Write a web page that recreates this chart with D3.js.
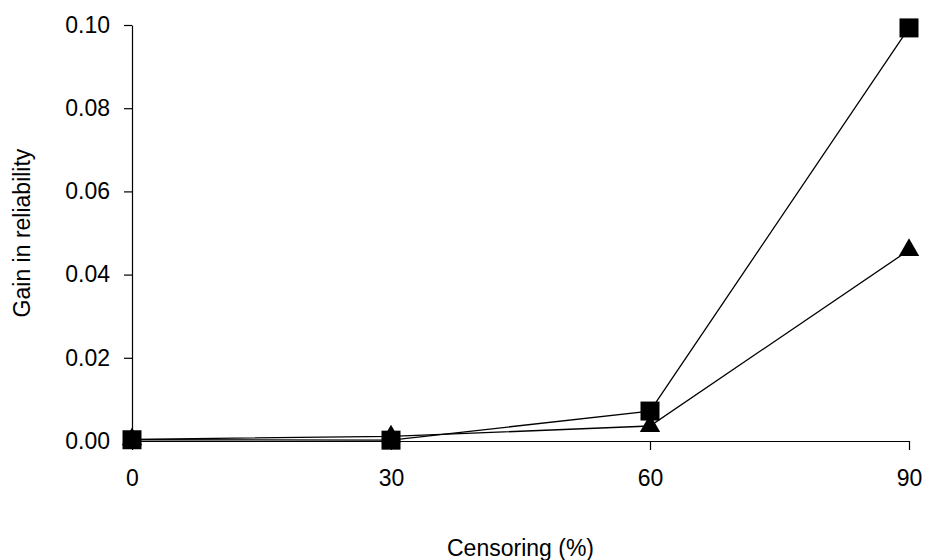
<!DOCTYPE html>
<html>
<head>
<meta charset="utf-8">
<script src="https://cdn.jsdelivr.net/npm/d3@7/dist/d3.min.js"></script>
<style>
  html, body { margin: 0; padding: 0; background: #fff; }
  svg { display: block; font-family: "Liberation Sans", Arial, sans-serif; }
</style>
</head>
<body>
<svg id="chart" width="928" height="560"></svg>
<script>
// Censoring levels (%) on the x axis
const censoring = [0, 30, 60, 90];
// Gain in reliability for the two series
const squareSeries = [0.0003, 0.0002, 0.0072, 0.0993];
const triangleSeries = [0.0004, 0.0011, 0.0036, 0.0459];
// Axis ticks
const xTicks = [0, 30, 60, 90];
const yTicks = [0, 0.02, 0.04, 0.06, 0.08, 0.10];

const svg = d3.select("#chart");
const margin = { left: 132, right: 19, top: 25, bottom: 119 };
const W = 928, H = 560;
const fontSize = "23px";

const x = d3.scaleLinear().domain([0, 90]).range([margin.left, W - margin.right]);
const y = d3.scaleLinear().domain([0, 0.1]).range([H - margin.bottom, margin.top]);

// y axis
const yAxis = svg.append("g")
  .attr("transform", `translate(${margin.left},0)`)
  .call(d3.axisLeft(y).tickValues(yTicks).tickFormat(d3.format(".2f")).tickSize(8).tickSizeOuter(0).tickPadding(14));

// x axis
const xAxis = svg.append("g")
  .attr("transform", `translate(0,${y(0)})`)
  .call(d3.axisBottom(x).tickValues(xTicks).tickFormat(d3.format("d")).tickSize(9).tickSizeOuter(0).tickPadding(20));

[yAxis, xAxis].forEach(g => {
  g.select(".domain").attr("stroke", "#000").attr("stroke-width", 1.2);
  g.selectAll(".tick line").attr("stroke", "#000").attr("stroke-width", 1.2);
  g.selectAll(".tick text").attr("fill", "#000").style("font-size", fontSize)
    .style("font-family", "Liberation Sans, Arial, sans-serif");
});

const line = d3.line().x((d, i) => x(censoring[i])).y(d => y(d));

const series = [
  { values: squareSeries, symbol: d3.symbolSquare, size: 19 * 19 },
  { values: triangleSeries, symbol: d3.symbolTriangle, size: 180 }
];

series.forEach(s => {
  svg.append("path")
    .datum(s.values)
    .attr("fill", "none")
    .attr("stroke", "#000")
    .attr("stroke-width", 1.3)
    .attr("d", line);
});

series.slice().reverse().forEach(s => {
  svg.append("g").selectAll("path")
    .data(s.values)
    .join("path")
    .attr("transform", (d, i) => `translate(${x(censoring[i])},${y(d)})`)
    .attr("d", d3.symbol().type(s.symbol).size(s.size))
    .attr("fill", "#000");
});

// Axis titles
svg.append("text")
  .attr("x", (margin.left + W - margin.right) / 2)
  .attr("y", 556)
  .attr("text-anchor", "middle")
  .style("font-size", fontSize)
  .text("Censoring (%)");

svg.append("text")
  .attr("transform", `translate(30,${(margin.top + y(0)) / 2}) rotate(-90)`)
  .attr("text-anchor", "middle")
  .style("font-size", fontSize)
  .text("Gain in reliability");
</script>
</body>
</html>
